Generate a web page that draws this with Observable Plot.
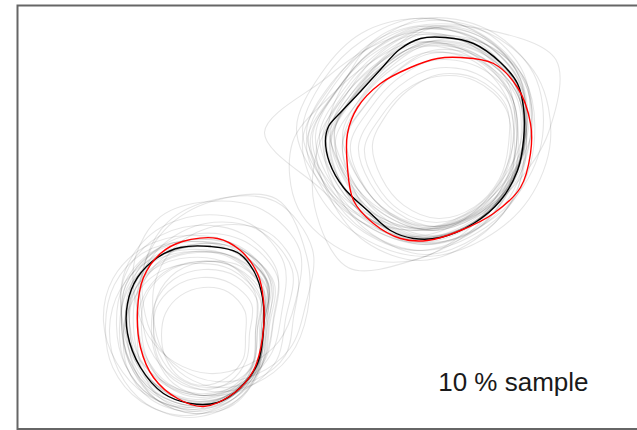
<!DOCTYPE html>
<html><head><meta charset="utf-8">
<script src="https://cdn.jsdelivr.net/npm/d3@7"></script>
<script src="https://cdn.jsdelivr.net/npm/@observablehq/plot@0.6"></script>
<style>body{margin:0;background:#fff}</style>
</head><body><div id="chart"></div>
<script>
// Full-data contour (black) and reference contour (red), upper-right mode
const blackUpper = [[420,38],[445,37],[473,43],[500,62],[517,83],[523,107],[523,140],[517,170],[500,200],[473,223],[440,237],[413,238],[390,230],[367,210],[343,187],[329,162],[325,140],[328,126],[340,112],[360,91],[380,69],[399,49]];
const redUpper = [[460,57],[493,63],[517,87],[530,123],[530,153],[520,187],[493,213],[460,230],[427,240],[400,238],[373,223],[353,200],[347,167],[347,133],[357,107],[380,83],[410,67],[437,58]];
// lower-left mode
const blackLower = [[210,246],[237,252],[253,270],[262,297],[263,330],[257,363],[240,387],[217,402],[190,403],[163,393],[140,367],[127,333],[127,303],[137,277],[157,257],[180,247]];
const redLower = [[217,238],[240,250],[257,273],[263,300],[262,337],[253,370],[233,393],[203,406],[177,398],[153,377],[140,347],[137,310],[143,277],[160,253],[182,241]];

// 10% sample contours: [dx, dy, radius at 0°,30°,...,330°] around each mode centre
const angles = [0,30,60,90,120,150,180,210,240,270,300,330];
const centreUpper = [424,138];
const greyUpper = [
  [0,0,100,98,97,99,95,94,98,86,88,100,106,107],
  [4,2,95,92,94,96,92,90,93,80,82,96,102,104],
  [-3,-4,104,101,100,103,99,98,102,90,92,105,110,112],
  [6,5,90,88,90,92,88,86,88,76,78,90,96,98],
  [-6,-2,108,104,104,106,103,102,106,94,97,108,114,115],
  [8,6,84,82,84,86,82,80,82,72,74,84,90,92],
  [2,-6,98,96,95,97,92,92,96,88,92,104,110,108],
  [-8,4,110,108,106,108,104,104,110,96,98,108,112,114],
  [10,8,78,76,78,80,76,74,76,68,70,78,84,86],
  [-2,2,96,100,104,104,98,92,92,82,84,96,100,100],
  [4,-2,102,98,92,94,94,100,104,92,90,100,108,112],
  [-10,-8,112,108,102,100,100,104,112,104,104,112,116,118],
  [12,10,74,72,72,74,72,70,72,64,66,72,78,80],
  [0,6,100,104,106,110,104,100,100,86,86,98,104,106],
  [6,-8,96,90,92,98,100,98,96,84,88,104,108,104],
  [-4,0,114,112,110,112,108,106,110,96,100,112,118,120],
  [2,4,88,94,100,100,94,86,84,78,80,90,94,92],
  [-6,-6,104,96,94,96,96,102,112,100,98,106,108,108],
  [8,0,92,90,88,90,86,84,86,74,76,88,94,96],
  [0,-2,118,110,106,108,106,110,116,104,106,118,124,126],
  [-10,-6,100,98,100,104,104,110,150,105,96,100,104,106],
  [6,-6,118,100,96,98,94,92,96,84,88,104,118,145],
  [-6,8,98,96,100,112,140,120,100,86,88,100,104,106],
  [-12,4,104,100,104,118,128,132,120,94,90,100,106,108],
  [4,-10,100,96,96,98,94,94,100,96,104,108,112,110],
  [14,6,70,70,72,74,70,66,66,60,62,70,76,78],
  [-4,8,106,106,108,114,110,104,104,92,92,104,108,110],
  [10,-4,96,92,90,92,90,88,92,82,84,94,104,104],
  [-8,-10,116,104,100,102,104,110,120,110,110,110,114,118],
  [2,2,124,118,114,116,116,120,124,110,112,116,124,128],
  [-2,-1,101,99,99,101,97,97,100,90,92,103,108,109],
  [3,1,97,95,96,98,94,92,96,84,86,98,104,105],
  [-5,-3,106,103,102,104,101,100,104,94,96,106,112,113],
  [1,3,99,97,100,102,96,94,96,86,86,99,105,106]
];
const centreLower = [195,325];
const greyLower = [
  [0,0,68,73,78,78,75,70,68,74,78,79,84,84],
  [2,2,64,70,74,75,72,66,64,70,74,75,80,80],
  [-2,-2,72,76,82,82,79,74,72,78,82,84,88,88],
  [4,4,58,63,68,68,65,60,58,63,66,68,72,72],
  [-3,0,76,80,84,84,82,78,76,80,84,86,92,90],
  [6,8,48,52,56,56,54,50,48,52,54,56,58,58],
  [8,10,42,46,48,50,48,44,42,44,46,48,50,48],
  [0,4,70,76,82,84,80,72,68,72,76,78,82,82],
  [4,-4,74,76,76,74,72,70,70,78,84,88,92,90],
  [-4,2,66,72,80,82,80,76,72,74,76,76,80,80],
  [10,-6,80,82,80,76,74,70,68,76,86,96,104,100],
  [16,-14,96,90,84,80,76,72,70,80,94,110,130,110],
  [20,-20,90,86,80,76,72,70,72,82,96,106,120,112],
  [-6,4,74,80,86,88,86,82,80,80,80,80,84,84],
  [2,6,62,70,76,80,76,66,60,64,68,70,74,72],
  [6,-2,66,70,72,72,70,66,64,70,76,80,84,82],
  [-8,-4,80,82,84,86,84,82,84,86,86,86,90,90],
  [12,0,56,60,62,62,60,56,54,58,62,64,68,66],
  [0,-8,78,80,82,82,78,74,74,82,88,92,96,94],
  [-2,10,68,74,80,78,74,70,70,70,72,72,76,76],
  [24,-8,74,76,72,70,68,66,66,74,84,92,98,90],
  [4,0,70,74,76,76,74,72,70,74,80,82,86,86],
  [-4,-2,70,76,80,82,78,72,70,76,80,82,86,86],
  [14,-24,86,80,74,72,70,70,74,86,98,100,106,104],
  [8,6,52,58,62,64,60,54,52,56,60,62,64,62],
  [-6,6,66,72,78,80,78,72,66,68,72,74,78,76],
  [2,-12,84,84,82,80,76,74,76,84,92,98,104,100],
  [-10,0,78,84,88,90,88,84,80,82,84,84,88,88],
  [-1,1,69,74,79,80,76,71,69,75,79,80,85,85],
  [1,-1,67,72,77,77,74,69,67,73,77,78,83,83],
  [-3,1,71,76,80,81,78,73,71,76,80,81,86,86]
];
const label = "10 % sample";

function rows(points, id) { return points.map(([x, y]) => ({x, y, id})); }
function polarRows(centre, specs, prefix) {
  const out = [];
  specs.forEach((s, i) => {
    const cx = centre[0] + s[0], cy = centre[1] + s[1];
    angles.forEach((a, k) => {
      const t = a * Math.PI / 180, r = s[2 + k];
      out.push({x: cx + r * Math.cos(t), y: cy + r * Math.sin(t), id: prefix + i});
    });
  });
  return out;
}
const grey = polarRows(centreUpper, greyUpper, "u").concat(polarRows(centreLower, greyLower, "l"));
const black = rows(blackUpper, "bu").concat(rows(blackLower, "bl"));
const red = rows(redUpper, "ru").concat(rows(redLower, "rl"));

const chart = Plot.plot({
  width: 637, height: 430, margin: 0,
  x: {domain: [0, 637], range: [0, 637], axis: null},
  y: {domain: [0, 430], range: [0, 430], axis: null},
  marks: [
    Plot.line(grey, {x: "x", y: "y", z: "id", curve: "catmull-rom-closed", stroke: "#000", strokeOpacity: 0.1, strokeWidth: 1.1}),
    Plot.line(black, {x: "x", y: "y", z: "id", curve: "catmull-rom-closed", stroke: "#000", strokeWidth: 1.4}),
    Plot.line(red, {x: "x", y: "y", z: "id", curve: "catmull-rom-closed", stroke: "#f00", strokeWidth: 1.4}),
    Plot.frame({stroke: "#666", strokeWidth: 2, insetLeft: 17, insetTop: 5, insetBottom: 1.5, insetRight: -20}),
    Plot.text([label], {text: d => d, frameAnchor: "bottom-right", textAnchor: "end", lineAnchor: "middle", dx: -49, dy: -48, fontSize: 26, fontFamily: "Liberation Sans, Arial, sans-serif", fill: "#1a1a1a"})
  ]
});
document.getElementById("chart").appendChild(chart);
</script>
</body></html>
